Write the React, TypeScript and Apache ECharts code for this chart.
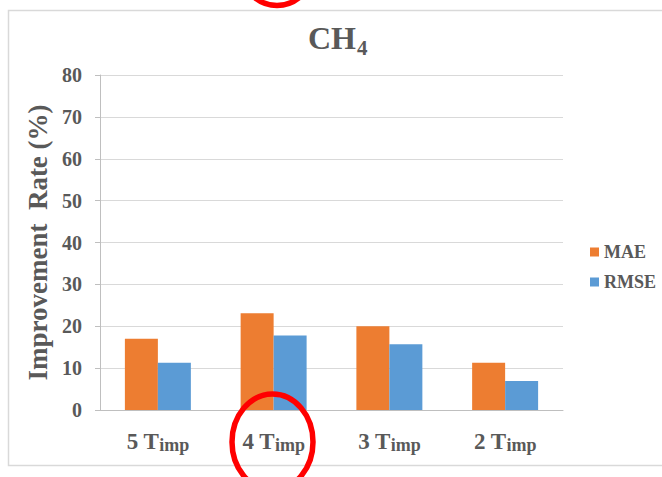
import React, { useEffect, useRef } from "react";
import * as echarts from "echarts";

const categories = ["5", "4", "3", "2"];
const seriesNames = ["MAE", "RMSE"];
const maeValues = [17.0, 23.1, 20.0, 11.3];
const rmseValues = [11.3, 17.8, 15.7, 6.9];
const yMin = 0;
const yMax = 80;
const yInterval = 10;

const FONT = "'Liberation Serif', 'Times New Roman', serif";
const TEXT = "#595959";

export default function App() {
  const ref = useRef<HTMLDivElement>(null);
  useEffect(() => {
    if (!ref.current) return;
    const chart = echarts.init(ref.current, undefined, { renderer: "svg" });
    chart.setOption({
      animation: false,
      backgroundColor: "#ffffff",
      grid: { left: 100, right: 99, top: 75, bottom: 67, containLabel: false },
      legend: {
        orient: "vertical",
        left: 585,
        top: 237,
        itemWidth: 9,
        itemHeight: 9,
        itemGap: 10,
        icon: "rect",
        data: seriesNames,
        textStyle: {
          fontFamily: FONT,
          fontWeight: "bold",
          fontSize: 18,
          lineHeight: 20,
          color: TEXT,
        },
      },
      xAxis: {
        type: "category",
        data: categories,
        axisLine: { lineStyle: { color: "#bfbfbf", width: 1 } },
        axisTick: { show: false },
        axisLabel: {
          margin: 18,
          formatter: (v: string) => `{a|${v} T}{b|imp}`,
          rich: {
            a: { fontFamily: FONT, fontWeight: "bold", fontSize: 23, color: TEXT, lineHeight: 26 },
            b: { fontFamily: FONT, fontWeight: "bold", fontSize: 18, color: TEXT, lineHeight: 18, verticalAlign: "bottom" },
          },
        },
      },
      yAxis: {
        type: "value",
        min: yMin,
        max: yMax,
        interval: yInterval,
        name: "Improvement  Rate (%)",
        nameLocation: "middle",
        nameGap: 46,
        nameRotate: 90,
        nameTextStyle: { fontFamily: FONT, fontWeight: "bold", fontSize: 27, color: TEXT },
        axisLine: { show: true, lineStyle: { color: "#bfbfbf", width: 1 } },
        axisTick: { show: true, length: 5, lineStyle: { color: "#bfbfbf" } },
        splitLine: { lineStyle: { color: "#d9d9d9", width: 1 } },
        axisLabel: { margin: 18, fontFamily: FONT, fontWeight: "bold", fontSize: 20, color: TEXT },
      },
      series: [
        {
          name: seriesNames[0],
          type: "bar",
          data: maeValues,
          barGap: "0%",
          barCategoryGap: "43%",
          itemStyle: { color: "#ED7D31" },
        },
        {
          name: seriesNames[1],
          type: "bar",
          data: rmseValues,
          barGap: "0%",
          barCategoryGap: "43%",
          itemStyle: { color: "#5B9BD5" },
        },
      ],
      graphic: [
        {
          type: "rect",
          z: -10,
          shape: { x: 8.5, y: 10.5, width: 700, height: 455 },
          style: { fill: "none", stroke: "#d9d9d9", lineWidth: 1.5 },
          silent: true,
        },
        {
          type: "text",
          x: 308,
          y: 38,
          style: { text: "CH", font: `bold 32px ${FONT}`, fill: TEXT, align: "left", verticalAlign: "middle" },
        },
        {
          type: "text",
          x: 357,
          y: 48,
          style: { text: "4", font: `bold 21px ${FONT}`, fill: TEXT, align: "left", verticalAlign: "middle" },
        },
        {
          type: "ellipse",
          z: 100,
          shape: { cx: 277, cy: -42, rx: 40, ry: 47.5 },
          style: { fill: "none", stroke: "#ff0000", lineWidth: 5.5 },
        },
        {
          type: "ellipse",
          z: 100,
          shape: { cx: 272.5, cy: 442, rx: 40.5, ry: 48 },
          style: { fill: "none", stroke: "#ff0000", lineWidth: 5.5 },
        },
      ],
    });
    return () => chart.dispose();
  }, []);
  return (
    <div
      ref={ref}
      style={{ position: "fixed", left: 0, top: 0, width: 662, height: 477, background: "#fff" }}
    />
  );
}
